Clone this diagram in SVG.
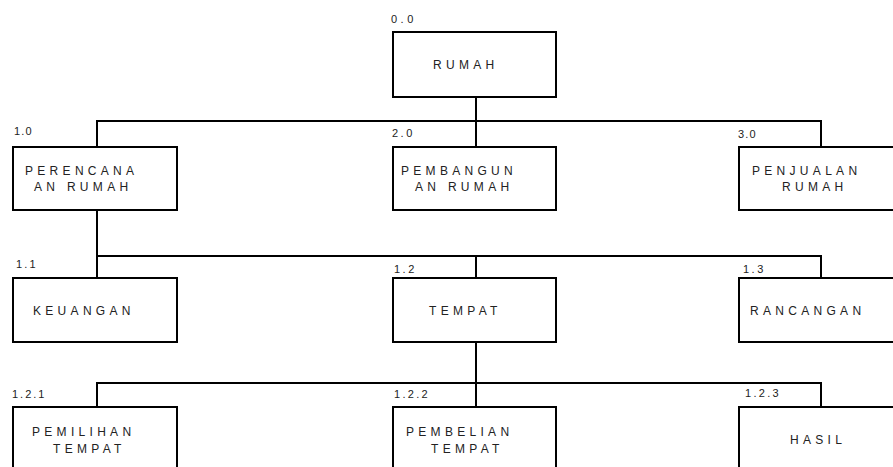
<svg xmlns="http://www.w3.org/2000/svg" width="893" height="467" viewBox="0 0 893 467">
<style>
.box{fill:#fff;stroke:#000;stroke-width:2}
.ln{fill:none;stroke:#000;stroke-width:2}
.t{font-family:"Liberation Sans",Arial,sans-serif;font-size:12px;letter-spacing:4.3px;fill:#222}
.n{font-family:"Liberation Sans",Arial,sans-serif;font-size:11px;fill:#222}
</style>
<rect width="893" height="467" fill="#fff"/>
<g id="connectors">
<path class="ln" d="M476 97V121M97 147V121H821V147M476 121V147"/>
<path class="ln" d="M97 210V278M97 256H821V278M476 256V278"/>
<path class="ln" d="M476 342V383M97 407V383H821V407M476 383V407"/>
</g>
<g id="n00">
<rect class="box" x="393" y="32" width="163" height="65"/>
<text class="n" x="391" y="23" letter-spacing="3.5">0.0</text>
<text class="t" x="433" y="69">RUMAH</text>
</g>
<g id="n10">
<rect class="box" x="13" y="147" width="164" height="63"/>
<text class="n" x="14" y="135" letter-spacing="1.2">1.0</text>
<text class="t" x="25" y="175">PERENCANA</text>
<text class="t" x="34" y="191">AN RUMAH</text>
</g>
<g id="n20">
<rect class="box" x="393" y="147" width="163" height="63"/>
<text class="n" x="392" y="137" letter-spacing="2.5">2.0</text>
<text class="t" x="401" y="175">PEMBANGUN</text>
<text class="t" x="415" y="191">AN RUMAH</text>
</g>
<g id="n30">
<rect class="box" x="739" y="147" width="164" height="63"/>
<text class="n" x="738" y="138" letter-spacing="1.2">3.0</text>
<text class="t" x="752" y="175">PENJUALAN</text>
<text class="t" x="782" y="191">RUMAH</text>
</g>
<g id="n11">
<rect class="box" x="13" y="278" width="164" height="64"/>
<text class="n" x="16" y="268" letter-spacing="2.2">1.1</text>
<text class="t" x="33" y="315">KEUANGAN</text>
</g>
<g id="n12">
<rect class="box" x="393" y="278" width="163" height="64"/>
<text class="n" x="394" y="273" letter-spacing="2.5">1.2</text>
<text class="t" x="429" y="315">TEMPAT</text>
</g>
<g id="n13">
<rect class="box" x="739" y="278" width="164" height="64"/>
<text class="n" x="743" y="273" letter-spacing="2.5">1.3</text>
<text class="t" x="750" y="315">RANCANGAN</text>
</g>
<g id="n121">
<rect class="box" x="13" y="407" width="164" height="80"/>
<text class="n" x="12" y="398" letter-spacing="2">1.2.1</text>
<text class="t" x="32" y="436">PEMILIHAN</text>
<text class="t" x="53" y="453">TEMPAT</text>
</g>
<g id="n122">
<rect class="box" x="393" y="407" width="163" height="80"/>
<text class="n" x="394" y="398" letter-spacing="2.3">1.2.2</text>
<text class="t" x="406" y="436">PEMBELIAN</text>
<text class="t" x="431" y="453">TEMPAT</text>
</g>
<g id="n123">
<rect class="box" x="739" y="407" width="164" height="80"/>
<text class="n" x="745" y="397" letter-spacing="2.3">1.2.3</text>
<text class="t" x="790" y="444">HASIL</text>
</g>
</svg>
